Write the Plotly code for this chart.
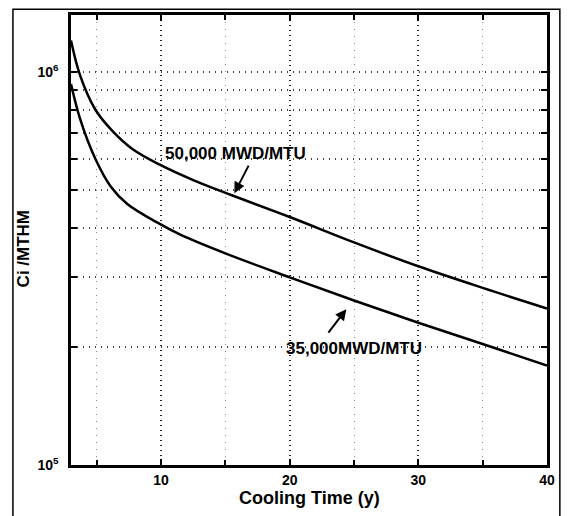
import math
import plotly.graph_objects as go

# Cooling time (years) and activity (Ci/MTHM)
t_50k = [3, 3.7, 4.9, 6.25, 7.8, 9.9, 12.5, 15.5, 20, 25, 30, 35, 40]
ci_50k = [1.2e6, 9.8e5, 8.0e5, 7.05e5, 6.35e5, 5.8e5, 5.3e5, 4.85e5, 4.27e5, 3.68e5, 3.2e5, 2.82e5, 2.5e5]

t_35k = [3, 3.7, 4.9, 6.1, 7.4, 9.9, 11.5, 15, 20, 25, 30, 35, 40]
ci_35k = [9.3e5, 7.6e5, 6.0e5, 5.1e5, 4.6e5, 4.1e5, 3.85e5, 3.45e5, 3.0e5, 2.62e5, 2.3e5, 2.03e5, 1.79e5]

label_50k = "50,000 MWD/MTU"
label_35k = "35,000MWD/MTU"
x_title = "Cooling Time (y)"
y_title = "Ci /MTHM"

y_tickvals = [1e5, 2e5, 3e5, 4e5, 5e5, 6e5, 7e5, 8e5, 9e5, 1e6]
y_ticktext = ["10<sup>5</sup>", " ", " ", " ", " ", " ", " ", " ", " ", "10<sup>6</sup>"]
x_tickvals = [10, 20, 30, 40]
x_minor_tickvals = [5, 15, 25, 35]

FONT = "Liberation Sans, Arial, sans-serif"

fig = go.Figure()
fig.add_trace(go.Scatter(x=t_50k, y=ci_50k, mode="lines", line=dict(color="black", width=2.5, shape="spline"),
                         name=label_50k, showlegend=False))
fig.add_trace(go.Scatter(x=t_35k, y=ci_35k, mode="lines", line=dict(color="black", width=2.5, shape="spline"),
                         name=label_35k, showlegend=False))

L = math.log10  # annotations on a log axis use log10 positions
fig.add_annotation(x=15.8, y=L(6.2e5), text=label_50k, showarrow=False,
                   font=dict(family=FONT, size=17, color="black", weight="bold"))
fig.add_annotation(x=15.7, y=L(4.91e5), text="", showarrow=True, ax=15, ay=-29,
                   arrowhead=2, arrowsize=1.1, arrowwidth=2, arrowcolor="black")
fig.add_annotation(x=25.0, y=L(1.98e5), text=label_35k, showarrow=False,
                   font=dict(family=FONT, size=17, color="black", weight="bold"))
fig.add_annotation(x=24.4, y=L(2.49e5), text="", showarrow=True, ax=-19, ay=25,
                   arrowhead=2, arrowsize=1.1, arrowwidth=2, arrowcolor="black")

# axis titles placed as paper annotations
fig.add_annotation(x=0.5, y=-0.073, xref="paper", yref="paper", text=x_title, showarrow=False,
                   xanchor="center", yanchor="middle",
                   font=dict(family=FONT, size=18, color="black", weight="bold"))
fig.add_annotation(x=-0.1, y=0.48, xref="paper", yref="paper", text=y_title, showarrow=False,
                   textangle=-90, xanchor="center", yanchor="middle",
                   font=dict(family=FONT, size=17, color="black", weight="bold"))

# outer frame of the scanned figure
fig.add_shape(type="rect", xref="paper", yref="paper", x0=-0.122, x1=1.027, y0=-0.3, y1=1.013,
              line=dict(color="black", width=1.5))

fig.update_layout(
    width=569, height=516,
    margin=dict(l=71, r=22, t=13, b=51),
    paper_bgcolor="white", plot_bgcolor="white",
    font=dict(family=FONT, color="black"),
    xaxis=dict(range=[3, 40], tickmode="array", tickvals=x_tickvals,
               ticks="inside", ticklen=6, tickwidth=2, tickcolor="black",
               showline=True, linecolor="black", linewidth=2.5, mirror="ticks",
               showgrid=True, gridcolor="#222", griddash="1px,4px", gridwidth=1.5,
               tickfont=dict(family=FONT, size=14, color="black", weight="bold"),
               ticklabelstandoff=0,
               minor=dict(tickvals=x_minor_tickvals, ticks="inside", ticklen=5, tickwidth=2, tickcolor="black",
                          showgrid=True, gridcolor="#888", griddash="1px,6px", gridwidth=1.2),
               zeroline=False),
    yaxis=dict(type="log", range=[5, 6.144], tickmode="array", tickvals=y_tickvals, ticktext=y_ticktext,
               ticks="inside", ticklen=6, tickwidth=2, tickcolor="black",
               showline=True, linecolor="black", linewidth=2.5, mirror="ticks",
               showgrid=True, gridcolor="#444", griddash="1px,5px", gridwidth=1.5,
               tickfont=dict(family=FONT, size=14, color="black", weight="bold"),
               ticklabelstandoff=7,
               zeroline=False),
)

# remove the browser's default 8px body margin so the figure fills the window exactly
fig.write_html("out.html", config={"displayModeBar": False},
               post_script="document.body.style.margin='0';document.body.style.overflow='hidden';")
